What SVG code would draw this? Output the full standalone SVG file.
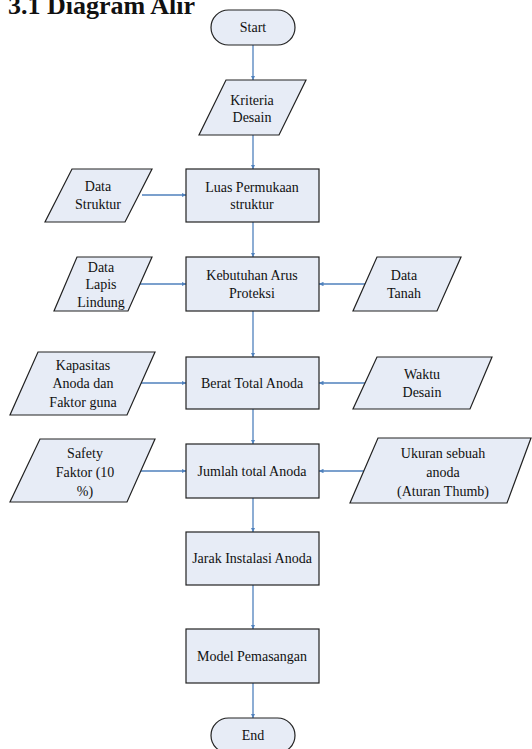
<svg xmlns="http://www.w3.org/2000/svg" width="532" height="749" viewBox="0 0 532 749">
<style>
.s{fill:#e7ecf6;stroke:#222;stroke-width:1.2}
.t{font-family:"Liberation Serif","Times New Roman",serif;font-size:14px;fill:#111;text-anchor:middle}
.c{stroke:#4f81bd;stroke-width:1.3;fill:none;marker-end:url(#ah)}
.title{font-family:"Liberation Serif","Times New Roman",serif;font-size:26px;font-weight:bold;fill:#111}
</style>
<defs>
<marker id="ah" viewBox="0 0 10 10" refX="10" refY="5" markerWidth="4.5" markerHeight="4.5" orient="auto" markerUnits="userSpaceOnUse">
<path d="M0,0 L10,5 L0,10 z" fill="#4f81bd"/>
</marker>
</defs>
<rect width="532" height="749" fill="#fff"/>
<text class="title" x="8" y="14">3.1 Diagram Alir</text>
<g id="connectors">
<line class="c" x1="253" y1="45" x2="253" y2="80"/>
<line class="c" x1="253" y1="135" x2="253" y2="169"/>
<line class="c" x1="142" y1="195" x2="186" y2="195"/>
<line class="c" x1="253" y1="222" x2="253" y2="257"/>
<line class="c" x1="140" y1="284" x2="186" y2="284"/>
<line class="c" x1="365" y1="284" x2="319" y2="284"/>
<line class="c" x1="253" y1="311" x2="253" y2="357"/>
<line class="c" x1="141" y1="383" x2="186" y2="383"/>
<line class="c" x1="365" y1="383" x2="319" y2="383"/>
<line class="c" x1="253" y1="409" x2="253" y2="444"/>
<line class="c" x1="141" y1="471" x2="186" y2="471"/>
<line class="c" x1="365" y1="471" x2="319" y2="471"/>
<line class="c" x1="253" y1="498" x2="253" y2="532"/>
<line class="c" x1="253" y1="585" x2="253" y2="629"/>
<line class="c" x1="253" y1="683" x2="253" y2="718"/>
</g>
<g id="start">
<rect class="s" x="211" y="10" width="84" height="35" rx="17.5"/>
<text class="t" x="253" y="32">Start</text>
</g>
<g id="kriteria">
<polygon class="s" points="226,80 306,80 279,135 199,135"/>
<text class="t" x="252" y="105">Kriteria</text>
<text class="t" x="252" y="122">Desain</text>
</g>
<g id="data-struktur">
<polygon class="s" points="72,169 152,169 125,222 45,222"/>
<text class="t" x="98" y="191">Data</text>
<text class="t" x="98" y="209">Struktur</text>
</g>
<g id="luas">
<rect class="s" x="186" y="169" width="133" height="53"/>
<text class="t" x="252" y="192">Luas Permukaan</text>
<text class="t" x="252" y="209">struktur</text>
</g>
<g id="lapis">
<polygon class="s" points="77,257 152,257 128,311 54,311"/>
<text class="t" x="101" y="272">Data</text>
<text class="t" x="101" y="289">Lapis</text>
<text class="t" x="101" y="307">Lindung</text>
</g>
<g id="kebutuhan">
<rect class="s" x="186" y="257" width="133" height="54"/>
<text class="t" x="252" y="280">Kebutuhan Arus</text>
<text class="t" x="252" y="298">Proteksi</text>
</g>
<g id="tanah">
<polygon class="s" points="377,257 461,257 437,311 353,311"/>
<text class="t" x="404" y="280">Data</text>
<text class="t" x="404" y="298">Tanah</text>
</g>
<g id="kapasitas">
<polygon class="s" points="38,352 155,352 127,415 10,415"/>
<text class="t" x="83" y="370">Kapasitas</text>
<text class="t" x="83" y="388">Anoda dan</text>
<text class="t" x="83" y="407">Faktor guna</text>
</g>
<g id="berat">
<rect class="s" x="186" y="357" width="133" height="52"/>
<text class="t" x="252" y="388">Berat Total Anoda</text>
</g>
<g id="waktu">
<polygon class="s" points="377,357 492,357 470,409 353,409"/>
<text class="t" x="422" y="379">Waktu</text>
<text class="t" x="422" y="397">Desain</text>
</g>
<g id="safety">
<polygon class="s" points="40,439 155,439 127,502 10,502"/>
<text class="t" x="85" y="458">Safety</text>
<text class="t" x="85" y="477">Faktor (10</text>
<text class="t" x="85" y="496">%)</text>
</g>
<g id="jumlah">
<rect class="s" x="186" y="444" width="133" height="54"/>
<text class="t" x="252" y="476">Jumlah total Anoda</text>
</g>
<g id="ukuran">
<polygon class="s" points="378,438 531,438 507,503 350,503"/>
<text class="t" x="443" y="458">Ukuran sebuah</text>
<text class="t" x="443" y="477">anoda</text>
<text class="t" x="443" y="496">(Aturan Thumb)</text>
</g>
<g id="jarak">
<rect class="s" x="186" y="532" width="133" height="53"/>
<text class="t" x="252" y="563">Jarak Instalasi Anoda</text>
</g>
<g id="model">
<rect class="s" x="186" y="629" width="133" height="54"/>
<text class="t" x="252" y="661">Model Pemasangan</text>
</g>
<g id="end">
<rect class="s" x="211" y="718" width="84" height="35" rx="17.5"/>
<text class="t" x="253" y="740">End</text>
</g>
</svg>
